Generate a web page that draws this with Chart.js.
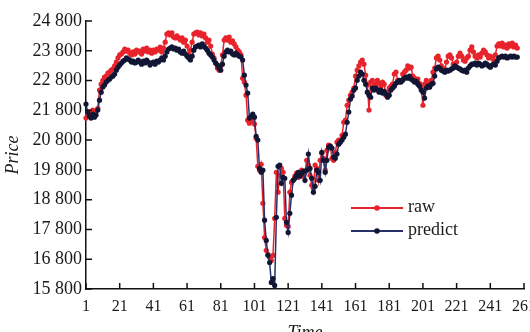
<!DOCTYPE html>
<html>
<head>
<meta charset="utf-8">
<script src="https://cdn.jsdelivr.net/npm/chart.js@4"></script>
<style>
  html, body { margin: 0; padding: 0; background: #fff; overflow: hidden; }
  canvas { display: block; }
</style>
</head>
<body>
<canvas id="priceChart" width="530" height="344"></canvas>
<script>
// Datos de la serie (precio real y predicción)
const rawValues = [
  21540, 21670, 21740, 21700, 21810, 21740, 21770, 21870, 22480, 22680,
  22810, 22920, 22950, 23050, 23080, 23150, 23190, 23290, 23420, 23560,
  23660, 23690, 23760, 23860, 23790, 23820, 23720, 23660, 23760, 23690,
  23820, 23760, 23790, 23690, 23860, 23790, 23890, 23760, 23820, 23720,
  23820, 23760, 23860, 23820, 23920, 23760, 23890, 24090, 24360, 24400,
  24330, 24400, 24260, 24230, 24300, 24230, 24160, 24230, 24090, 24160,
  23960, 23660, 23820, 24090, 24360, 24400, 24430, 24330, 24400, 24300,
  24360, 24230, 24090, 24160, 23960, 23690, 23560, 23390, 23220, 23150,
  23290, 23660, 24160, 24230, 24160, 24260, 24090, 24130, 24030, 23930,
  23820, 23760, 23660, 22880, 22750, 22310, 21470, 21370, 21440, 21540,
  21340, 20860, 19920, 19790, 19990, 18680, 17530, 17100, 16960, 16860,
  16760, 16930, 18170, 19720, 19050, 19620, 19850, 19720, 18170, 17940,
  17900, 19050, 19380, 19450, 19590, 19690, 19550, 19720, 19790, 19590,
  19720, 20120, 19960, 19620, 19280, 19180, 19960, 19850, 19450, 20120,
  20360, 20190, 19790, 20460, 20630, 20600, 20190, 20120, 20390, 20730,
  20800, 20800, 20960, 21400, 21470, 21970, 22140, 22310, 22410, 22550,
  22950, 23150, 23290, 23420, 23490, 23350, 22980, 22650, 21810, 22750,
  22810, 22610, 22680, 22810, 22710, 22580, 22750, 22680, 22310, 22410,
  22550, 22610, 22680, 23020, 23080, 22810, 22750, 22810, 23020, 23080,
  23150, 23290, 23220, 23250, 22950, 22880, 22810, 22850, 22710, 22550,
  21970, 22680, 22810, 22680, 22580, 22810, 23080, 23220, 23560, 23620,
  23490, 23290, 23220, 23150, 23420, 23620, 23660, 23560, 23350, 23290,
  23420, 23620, 23720, 23620, 23490, 23450, 23560, 23620, 23820, 23930,
  23760, 23620, 23560, 23660, 23590, 23720, 23820, 23760, 23660, 23560,
  23620, 23560, 23490, 23660, 23960, 24030, 23960, 24060, 23930, 23990,
  23890, 24030, 23960, 24060, 23930, 23990, 23890
];

const predictValues = [
  22010, 21740, 21600, 21540, 21670, 21570, 21640, 21810, 22140, 22410,
  22580, 22650, 22750, 22810, 22850, 22920, 22950, 23020, 23150, 23250,
  23320, 23390, 23450, 23490, 23560, 23520, 23490, 23420, 23450, 23390,
  23420, 23490, 23420, 23350, 23450, 23390, 23490, 23420, 23320, 23390,
  23420, 23350, 23450, 23420, 23490, 23560, 23490, 23620, 23760, 23860,
  23890, 23930, 23860, 23890, 23820, 23860, 23760, 23720, 23790, 23690,
  23620, 23560, 23490, 23620, 23820, 23930, 23960, 23990, 23930, 24030,
  23960, 23890, 23820, 23720, 23660, 23590, 23490, 23390, 23320, 23220,
  23150, 23350, 23620, 23760, 23820, 23760, 23790, 23690, 23660, 23720,
  23660, 23620, 23590, 23490, 22980, 22650, 22380, 21540, 21600, 21670,
  21570, 20930, 20800, 19850, 19720, 19790, 18110, 17430, 16930, 16690,
  16020, 16150, 15920, 18210, 19920, 19960, 19350, 19550, 19520, 18040,
  17700, 18340, 18950, 19450, 19520, 19620, 19720, 19590, 19690, 19750,
  19450, 19790, 20330, 19850, 19520, 19050, 19250, 19790, 19720, 19450,
  20390, 20120, 19720, 20120, 20560, 20600, 20530, 20230, 20190, 20330,
  20660, 20730, 20800, 20900, 21000, 21400, 21740, 22180, 22280, 22480,
  22550, 22810, 22950, 23080, 23020, 22810, 22680, 22410, 22310, 22240,
  22550, 22480, 22550, 22480, 22410, 22480, 22380, 22440, 22340, 22240,
  22310, 22480, 22550, 22610, 22710, 22750, 22810, 22750, 22810, 22880,
  22920, 22880, 22950, 22850, 22810, 22750, 22780, 22680, 22610, 22480,
  22410, 22210, 22550, 22610, 22580, 22680, 22710, 22950, 23190, 23250,
  23220, 23150, 23120, 23080, 23150, 23120, 23150, 23190, 23220, 23290,
  23250, 23220, 23190, 23150, 23120, 23150, 23080, 23220, 23290, 23350,
  23350, 23390, 23320, 23390, 23350, 23290, 23320, 23390, 23350, 23290,
  23250, 23320, 23350, 23320, 23450, 23560, 23590, 23620, 23590, 23620,
  23560, 23590, 23620, 23590, 23620, 23590, 23590
];

// Eje X: instantes 1..261, etiquetas cada 20
const timeLabels = Array.from({ length: 261 }, (_, i) => String(i + 1));
const yMin = 15800;
const yMax = 24800;
const yStep = 1000;

const COLORS = {
    raw: '#e8232b',
    predictLine: '#27306b',
    predictDot: '#111634',
    axis: '#111111',
    text: '#1a1a1a'
};
const SERIF = '"Liberation Serif", "Times New Roman", serif';

// Marcas de los ejes hacia dentro
const innerTicks = {
    id: 'innerTicks',
    afterDraw(chart) {
        const ctx = chart.ctx;
        const xs = chart.scales.x;
        const ys = chart.scales.y;
        ctx.save();
        ctx.strokeStyle = COLORS.axis;
        ctx.lineWidth = 1.5;
        ctx.beginPath();
        ys.ticks.forEach((t, i) => {
            const y = ys.getPixelForTick(i);
            ctx.moveTo(ys.right, y);
            ctx.lineTo(ys.right + 6, y);
        });
        xs.ticks.forEach((t, i) => {
            const x = xs.getPixelForTick(i);
            ctx.moveTo(x, xs.top);
            ctx.lineTo(x, xs.top - 6);
        });
        ctx.stroke();
        ctx.restore();
    }
};

// Leyenda dentro del área del gráfico
const innerLegend = {
    id: 'innerLegend',
    afterDraw(chart) {
        const ctx = chart.ctx;
        const items = [
            { text: 'raw', line: COLORS.raw, dot: COLORS.raw, y: 208 },
            { text: 'predict', line: COLORS.predictLine, dot: COLORS.predictDot, y: 231 }
        ];
        ctx.save();
        items.forEach(it => {
            ctx.strokeStyle = it.line;
            ctx.lineWidth = 1.8;
            ctx.beginPath();
            ctx.moveTo(351, it.y);
            ctx.lineTo(403, it.y);
            ctx.stroke();
            ctx.fillStyle = it.dot;
            ctx.beginPath();
            ctx.arc(377, it.y, 2.8, 0, Math.PI * 2);
            ctx.fill();
            ctx.fillStyle = COLORS.text;
            ctx.font = '18px ' + SERIF;
            ctx.textBaseline = 'middle';
            ctx.fillText(it.text, 408, it.y - 1);
        });
        ctx.restore();
    }
};

const ctx = document.getElementById('priceChart').getContext('2d');
new Chart(ctx, {
    type: 'line',
    data: {
        labels: timeLabels,
        datasets: [
            {
                label: 'raw',
                data: rawValues,
                borderColor: COLORS.raw,
                backgroundColor: COLORS.raw,
                pointBackgroundColor: COLORS.raw,
                pointBorderWidth: 0,
                pointRadius: 2.6,
                borderWidth: 1.5,
                tension: 0,
                order: 1
            },
            {
                label: 'predict',
                data: predictValues,
                borderColor: COLORS.predictLine,
                backgroundColor: COLORS.predictDot,
                pointBackgroundColor: COLORS.predictDot,
                pointBorderWidth: 0,
                pointRadius: 2.6,
                borderWidth: 1.5,
                tension: 0,
                order: 0
            }
        ]
    },
    options: {
        responsive: false,
        animation: false,
        layout: { padding: { top: 21, right: 6, bottom: 0, left: 0 } },
        plugins: {
            legend: { display: false },
            tooltip: { enabled: false }
        },
        scales: {
            x: {
                type: 'category',
                afterBuildTicks: scale => {
                    scale.ticks = scale.ticks.filter((t, i) => i % 20 === 0);
                },
                afterFit: scale => {
                    scale.height = 55;
                    scale.paddingLeft = 0;
                    scale.paddingRight = 0;
                },
                grid: { display: false, drawTicks: false },
                border: { display: true, color: COLORS.axis, width: 1.5 },
                ticks: {
                    autoSkip: false,
                    maxRotation: 0,
                    padding: 8,
                    color: COLORS.text,
                    font: { family: SERIF, size: 16 }
                },
                title: {
                    display: true,
                    text: 'Time',
                    color: COLORS.text,
                    padding: 0,
                    font: { family: SERIF, size: 18, style: 'italic' }
                }
            },
            y: {
                min: yMin,
                max: yMax,
                afterFit: scale => { scale.width = 86; },
                grid: { display: false, drawTicks: false },
                border: { display: true, color: COLORS.axis, width: 1.5 },
                ticks: {
                    stepSize: yStep,
                    padding: 4,
                    color: COLORS.text,
                    font: { family: SERIF, size: 18 },
                    callback: v => String(v).replace(/(\d+)(\d{3})$/, '$1 $2')
                },
                title: {
                    display: true,
                    text: 'Price',
                    color: COLORS.text,
                    padding: { top: 2, bottom: 0 },
                    font: { family: SERIF, size: 18, style: 'italic' }
                }
            }
        }
    },
    plugins: [innerTicks, innerLegend]
});
</script>
</body>
</html>
